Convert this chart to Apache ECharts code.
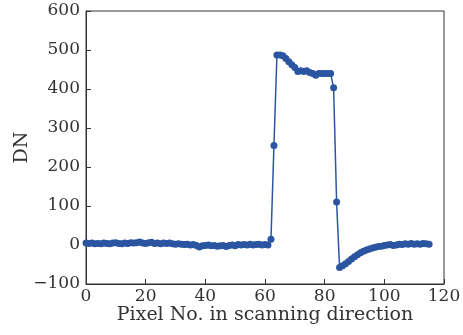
<!DOCTYPE html>
<html><head><meta charset="utf-8">
<script src="https://cdn.jsdelivr.net/npm/echarts@6/dist/echarts.min.js"></script>
<style>html,body{margin:0;padding:0;background:#fff}#c{width:463px;height:335px}</style>
</head><body><div id="c"></div>
<script>
var pixelNo = [];
for (var i = 0; i <= 115; i++) pixelNo.push(i);
var dnValues = [
 5,4,5,3,4,3,5,4,3,5,
 6,4,3,5,4,6,5,6,8,5,
 4,6,7,4,5,3,5,4,5,3,
 2,3,2,1,2,0,1,-1,-5,-2,
 -1,0,-2,-1,-3,-2,-1,-4,-1,0,
 -2,1,0,1,0,2,0,1,2,0,
 1,0,15,255,487,487,485,478,470,462,
 455,445,447,445,447,442,440,435,440,440,
 440,440,440,403,110,-58,-53,-48,-42,-36,
 -30,-25,-20,-16,-13,-10,-8,-6,-4,-3,
 -1,0,1,-1,0,2,1,3,2,4,
 2,3,2,4,3,2
];
var xTicks = [0,20,40,60,80,100,120];
var yTicks = [-100,0,100,200,300,400,500,600];

var data = pixelNo.map(function(x, i){ return [x, dnValues[i]]; });
var font = 'DejaVu Serif';
var chart = echarts.init(document.getElementById('c'), null, {renderer:'canvas'});
chart.setOption({
  animation:false,
  grid:{left:86,right:19,top:11,bottom:51,show:true,borderColor:'#333',borderWidth:1,backgroundColor:'transparent',outerBoundsMode:'none',containLabel:false},
  xAxis:{type:'value',min:xTicks[0],max:xTicks[xTicks.length-1],interval:20,
    name:'Pixel No. in scanning direction',nameLocation:'middle',nameGap:22,nameMoveOverlap:false,
    nameTextStyle:{fontFamily:font,fontSize:19,color:'#333'},
    axisLine:{show:true,onZero:false,lineStyle:{color:'#333',width:1}},
    axisTick:{show:true,inside:true,length:5,lineStyle:{color:'#333'}},
    axisLabel:{fontFamily:font,fontSize:17,color:'#333',margin:4},
    splitLine:{show:false}},
  yAxis:{type:'value',min:yTicks[0],max:yTicks[yTicks.length-1],interval:100,
    name:'DN',nameLocation:'middle',nameGap:54,nameMoveOverlap:false,
    nameTextStyle:{fontFamily:font,fontSize:19,color:'#333'},
    axisLine:{show:true,onZero:false,lineStyle:{color:'#333',width:1}},
    axisTick:{show:true,inside:true,length:5,lineStyle:{color:'#333'}},
    axisLabel:{fontFamily:font,fontSize:17,color:'#333',margin:6,
      formatter:function(v){return String(v).replace('-','\u2212');}},
    splitLine:{show:false}},
  series:[{type:'line',data:data,symbol:'circle',symbolSize:7,
    lineStyle:{color:'#2B55A1',width:1.5},
    itemStyle:{color:'#2B55A1'}}]
});
</script></body></html>
